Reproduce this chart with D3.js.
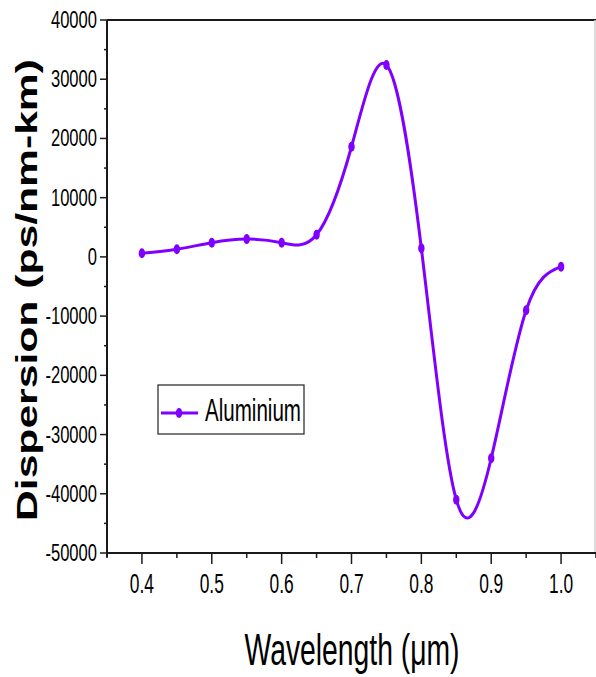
<!DOCTYPE html>
<html><head><meta charset="utf-8">
<script src="https://cdn.jsdelivr.net/npm/d3@7"></script>
<style>body{margin:0;background:#fff}svg{display:block}text{font-family:"Liberation Sans",Arial,sans-serif;fill:#000}</style>
</head><body><svg id="c" width="596" height="677"></svg>
<script>
const wavelength = [0.40,0.45,0.50,0.55,0.60,0.65,0.70,0.75,0.80,0.85,0.90,0.95,1.00];
const dispersion = [600,1300,2400,3000,2400,3750,18600,32400,1450,-41000,-34000,-9000,-1650];
const seriesName = "Aluminium";
const xTicks = [0.4,0.5,0.6,0.7,0.8,0.9,1.0];
const yTicks = [40000,30000,20000,10000,0,-10000,-20000,-30000,-40000,-50000];

const svg = d3.select("#c");
const L=107,R=596,T=20,B=553;
const x = d3.scaleLinear().domain([0.35,1.05]).range([L,R]);
const y = d3.scaleLinear().domain([-50000,40000]).range([B,T]);
const color = "#7f00ff";
const axisCol = "#1a1a1a";

function squeeze(sel, f){ sel.each(function(){ const w=this.getComputedTextLength(); this.setAttribute("textLength", w*f); this.setAttribute("lengthAdjust","spacingAndGlyphs"); }); }

// frame
svg.append("line").attr("x1",L).attr("x2",R).attr("y1",T).attr("y2",T).attr("stroke",axisCol).attr("stroke-width",2);
svg.append("line").attr("x1",R-1).attr("x2",R-1).attr("y1",T).attr("y2",B).attr("stroke","#d0d0d0").attr("stroke-width",1.5);

// x axis
const xMinor = d3.range(0.35,1.0501,0.05).map(v=>+v.toFixed(2)).filter(v=>!xTicks.some(t=>Math.abs(t-v)<1e-6));
const gx = svg.append("g");
gx.selectAll("line.maj").data(xTicks).join("line").attr("x1",d=>x(d)).attr("x2",d=>x(d)).attr("y1",B).attr("y2",B+11).attr("stroke",axisCol).attr("stroke-width",1.5);
gx.selectAll("line.min").data(xMinor).join("line").attr("x1",d=>x(d)).attr("x2",d=>x(d)).attr("y1",B).attr("y2",B+5).attr("stroke",axisCol).attr("stroke-width",1.5);
const xl = gx.selectAll("text").data(xTicks).join("text").attr("x",d=>x(d)).attr("y",593).attr("text-anchor","middle").attr("font-size",28).text(d=>d.toFixed(1));
squeeze(xl,0.62);
svg.append("line").attr("x1",L).attr("x2",R).attr("y1",B).attr("y2",B).attr("stroke",axisCol).attr("stroke-width",2);

// y axis
const yMinor = d3.range(-45000,40000,10000);
const gy = svg.append("g");
gy.selectAll("line.maj").data(yTicks).join("line").attr("x1",L-7).attr("x2",L).attr("y1",d=>y(d)).attr("y2",d=>y(d)).attr("stroke",axisCol).attr("stroke-width",1.5);
gy.selectAll("line.min").data(yMinor).join("line").attr("x1",L-3).attr("x2",L).attr("y1",d=>y(d)).attr("y2",d=>y(d)).attr("stroke",axisCol).attr("stroke-width",1.5);
const yl = gy.selectAll("text").data(yTicks).join("text").attr("x",97).attr("y",d=>y(d)+8).attr("text-anchor","end").attr("font-size",23).text(d=>d);
squeeze(yl,0.72);
svg.append("line").attr("x1",L).attr("x2",L).attr("y1",T).attr("y2",B+4).attr("stroke",axisCol).attr("stroke-width",2);

// titles
svg.append("text").attr("x",352).attr("y",665).attr("text-anchor","middle").attr("font-size",44).attr("textLength",215).attr("lengthAdjust","spacingAndGlyphs").text("Wavelength (\u03bcm)");
svg.append("text").attr("transform","translate(37,290) rotate(-90)").attr("text-anchor","middle").attr("font-size",30).attr("font-weight","bold").attr("textLength",462).attr("lengthAdjust","spacingAndGlyphs").text("Dispersion (ps/nm-km)");

// series
const data = wavelength.map((w,i)=>({w, d:dispersion[i]}));
const line = d3.line().x(d=>x(d.w)).y(d=>y(d.d)).curve(d3.curveNatural);
svg.append("path").datum(data).attr("d",line).attr("fill","none").attr("stroke",color).attr("stroke-width",3);
svg.selectAll("ellipse.pt").data(data).join("ellipse").attr("cx",d=>x(d.w)).attr("cy",d=>y(d.d)).attr("rx",3.2).attr("ry",5).attr("fill",color);

// legend
const lg = svg.append("g");
lg.append("rect").attr("x",158).attr("y",385).attr("width",146).attr("height",49).attr("fill","#fff").attr("stroke","#222").attr("stroke-width",1.2);
lg.append("line").attr("x1",161).attr("x2",198).attr("y1",413).attr("y2",413).attr("stroke",color).attr("stroke-width",3);
lg.append("ellipse").attr("cx",179).attr("cy",413).attr("rx",3.2).attr("ry",5).attr("fill",color);
lg.append("text").attr("x",205).attr("y",421).attr("font-size",31).attr("textLength",96).attr("lengthAdjust","spacingAndGlyphs").text(seriesName);
</script></body></html>
